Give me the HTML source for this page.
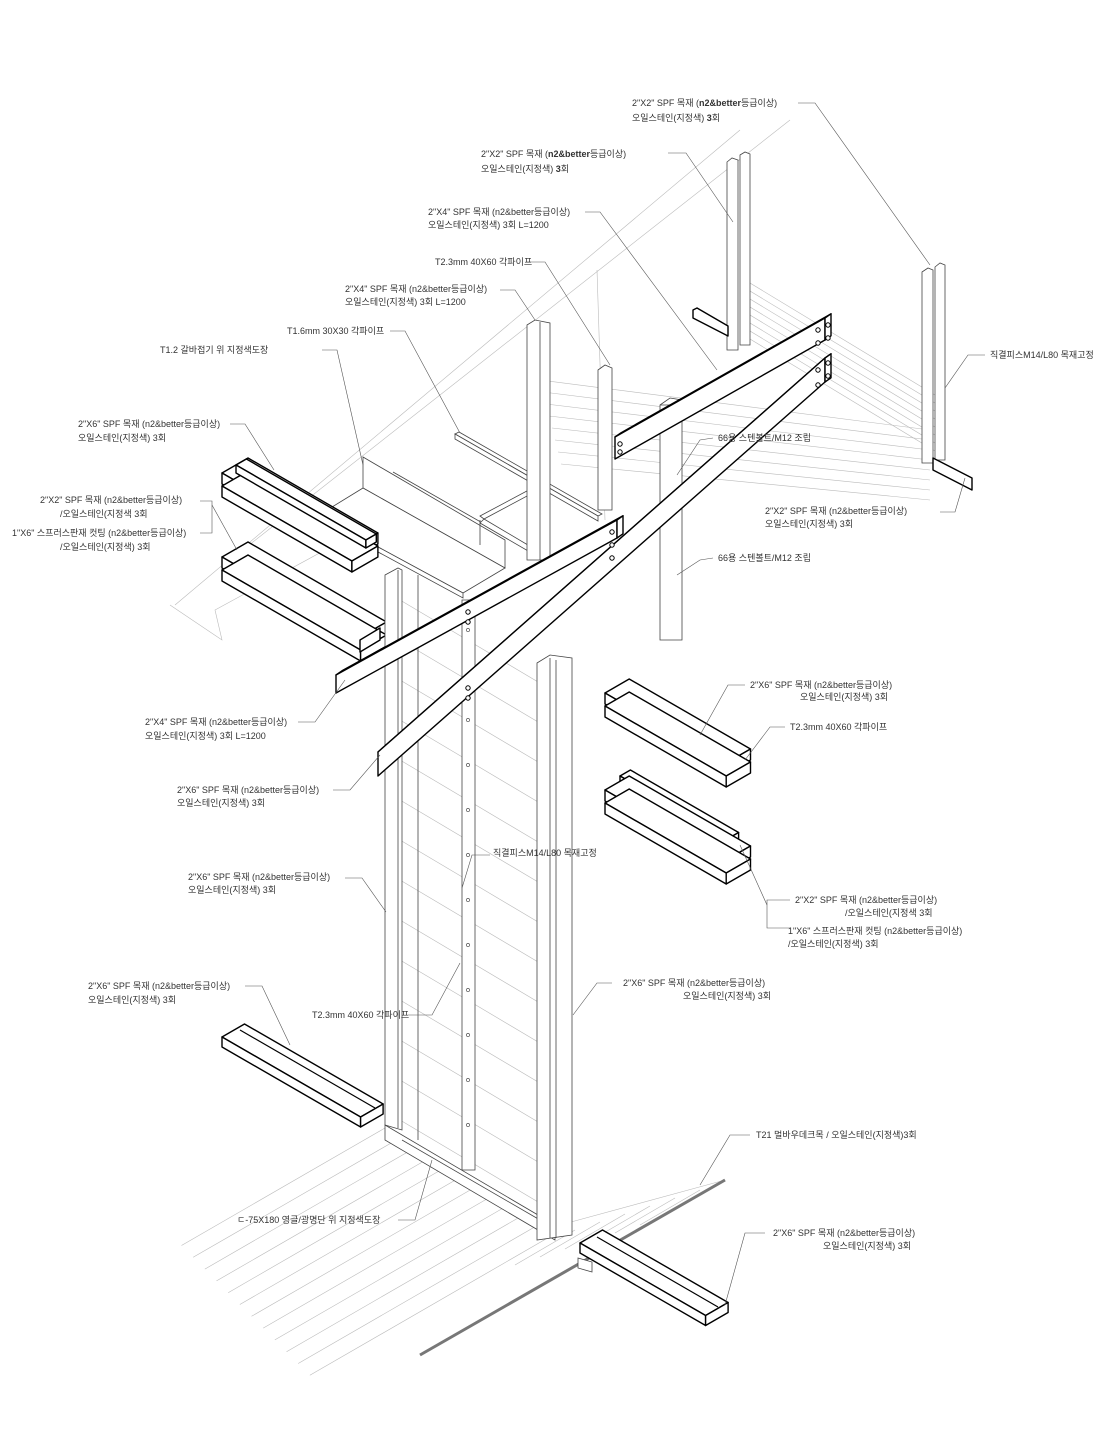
<!DOCTYPE html>
<html><head><meta charset="utf-8">
<style>
html,body{margin:0;padding:0;background:#fff;}
svg{display:block;}
text{font-family:"Liberation Sans","Noto Sans CJK KR",sans-serif;font-size:9px;fill:#333;}
.l{stroke:#555;stroke-width:0.6;fill:none;}
.g{stroke:#bbb;stroke-width:0.6;fill:none;}
.k{stroke:#000;stroke-width:1.4;fill:#fff;stroke-linejoin:round;}
.t{stroke:#444;stroke-width:0.8;fill:#fff;}
</style></head><body>
<svg id="s" width="1100" height="1450" viewBox="0 0 1100 1450" xmlns="http://www.w3.org/2000/svg">
<g id="bg"></g>
<line class="g" x1="175" y1="605" x2="740" y2="130"/>
<line class="g" x1="230" y1="560" x2="790" y2="120"/>
<polyline class="g" points="170,605 222,640 215,610 380,520"/>
<line class="g" x1="597" y1="270" x2="605" y2="520"/>
<g id="deck"></g>
<line x1="420" y1="1355" x2="725" y2="1180" stroke="#777" stroke-width="3"/>
<g id="main"></g>
<g id="labels">
<polyline class="l" points="798,103 815,103 930,265"/>
<text x="632" y="106">2"X2" SPF 목재 (<tspan font-weight="bold">n2&amp;better</tspan>등급이상)</text>
<text x="632" y="121">오일스테인(지정색) <tspan font-weight="bold">3</tspan>회</text>
<polyline class="l" points="668,153 686,153 733,222"/>
<text x="481" y="157">2"X2" SPF 목재 (<tspan font-weight="bold">n2&amp;better</tspan>등급이상)</text>
<text x="481" y="172">오일스테인(지정색) <tspan font-weight="bold">3</tspan>회</text>
<polyline class="l" points="585,212 600,212 717,370"/>
<text x="428" y="215">2"X4" SPF 목재 (n2&amp;better등급이상)</text>
<text x="428" y="228">오일스테인(지정색) 3회 L=1200</text>
<polyline class="l" points="527,262 545,262 610,365"/>
<text x="435" y="265">T2.3mm 40X60 각파이프</text>
<polyline class="l" points="500,290 515,290 535,320"/>
<text x="345" y="292">2"X4" SPF 목재 (n2&amp;better등급이상)</text>
<text x="345" y="305">오일스테인(지정색) 3회 L=1200</text>
<polyline class="l" points="390,331 405,331 460,433"/>
<text x="287" y="334">T1.6mm 30X30 각파이프</text>
<polyline class="l" points="322,350 337,350 363,465"/>
<text x="160" y="353">T1.2 갈바접기 위 지정색도장</text>
<polyline class="l" points="230,424 245,424 274,470"/>
<text x="78" y="427">2"X6" SPF 목재 (n2&amp;better등급이상)</text>
<text x="78" y="441">오일스테인(지정색) 3회</text>
<polyline class="l" points="200,501 212,501 212,533 200,533"/>
<line class="l" x1="212" y1="505" x2="237" y2="550"/>
<text x="40" y="503">2"X2" SPF 목재 (n2&amp;better등급이상)</text>
<text x="60" y="517">/오일스테인(지정색    3회</text>
<text x="12" y="536">1"X6" 스프러스판재 컷팅 (n2&amp;better등급이상)</text>
<text x="60" y="550">/오일스테인(지정색) 3회</text>
<polyline class="l" points="298,722 315,722 345,680"/>
<text x="145" y="725">2"X4" SPF 목재 (n2&amp;better등급이상)</text>
<text x="145" y="739">오일스테인(지정색) 3회 L=1200</text>
<polyline class="l" points="333,790 350,790 380,755"/>
<text x="177" y="793">2"X6" SPF 목재 (n2&amp;better등급이상)</text>
<text x="177" y="806">오일스테인(지정색) 3회</text>
<polyline class="l" points="345,878 362,878 386,912"/>
<text x="188" y="880">2"X6" SPF 목재 (n2&amp;better등급이상)</text>
<text x="188" y="893">오일스테인(지정색) 3회</text>
<polyline class="l" points="490,855 472,855 462,888"/>
<text x="493" y="856">직결피스M14/L80 목재고정</text>
<polyline class="l" points="745,685 728,685 700,735"/>
<text x="750" y="688">2"X6" SPF 목재 (n2&amp;better등급이상)</text>
<text x="800" y="700">오일스테인(지정색) 3회</text>
<polyline class="l" points="785,727 770,727 745,760"/>
<text x="790" y="730">T2.3mm 40X60 각파이프</text>
<polyline class="l" points="790,900 767,900 767,928 790,928"/>
<line class="l" x1="767" y1="905" x2="740" y2="845"/>
<text x="795" y="903">2"X2" SPF 목재 (n2&amp;better등급이상)</text>
<text x="845" y="916">/오일스테인(지정색     3회</text>
<text x="788" y="934">1"X6" 스프러스판재 컷팅 (n2&amp;better등급이상)</text>
<text x="788" y="947">/오일스테인(지정색) 3회</text>
<polyline class="l" points="612,983 597,983 573,1015"/>
<text x="623" y="986">2"X6" SPF 목재 (n2&amp;better등급이상)</text>
<text x="683" y="999">오일스테인(지정색) 3회</text>
<polyline class="l" points="408,1015 432,1015 460,963"/>
<text x="312" y="1018">T2.3mm 40X60 각파이프</text>
<polyline class="l" points="245,986 262,986 290,1045"/>
<text x="88" y="989">2"X6" SPF 목재 (n2&amp;better등급이상)</text>
<text x="88" y="1003">오일스테인(지정색) 3회</text>
<polyline class="l" points="750,1135 730,1135 700,1185"/>
<text x="756" y="1138">T21 멀바우데크목 / 오일스테인(지정색)3회</text>
<polyline class="l" points="765,1233 745,1233 725,1305"/>
<text x="773" y="1236">2"X6" SPF 목재 (n2&amp;better등급이상)</text>
<text x="823" y="1249">오일스테인(지정색) 3회</text>
<polyline class="l" points="398,1220 415,1220 432,1160"/>
<text x="237" y="1223">ㄷ-75X180 영글/광명단 위 지정색도장</text>
<polyline class="l" points="985,355 968,355 945,388"/>
<text x="990" y="358">직결피스M14/L80 목재고정</text>
<polyline class="l" points="713,438 700,440 677,475"/>
<text x="718" y="441">66용 스텐볼트/M12 조립</text>
<polyline class="l" points="713,558 700,560 677,575"/>
<text x="718" y="561">66용 스텐볼트/M12 조립</text>
<polyline class="l" points="940,512 955,512 965,478"/>
<text x="765" y="514">2"X2" SPF 목재 (n2&amp;better등급이상)</text>
<text x="765" y="527">오일스테인(지정색) 3회</text>
</g>
</svg>
<script>
(function(){
var NS="http://www.w3.org/2000/svg";
function el(p,tag,a){var e=document.createElementNS(NS,tag);for(var k in a)e.setAttribute(k,a[k]);p.appendChild(e);return e;}
var bg=document.getElementById('bg'),deck=document.getElementById('deck'),m=document.getElementById('main');
function pts(a){return a.map(function(p){return p[0].toFixed(1)+','+p[1].toFixed(1)}).join(' ');}
function poly(p,a,cls){el(p,'polygon',{points:pts(a),'class':cls||'k'});}
var ux=0.866,uy=0.5;
function box(p,x,y,L,w,h,cls){
 var O=[x,y],A=[x+ux*L,y+uy*L],V=[ux*w,-uy*w];
 var B=[A[0]+V[0],A[1]+V[1]],C=[x+V[0],y+V[1]];
 poly(p,[O,A,B,C],cls);
 poly(p,[O,A,[A[0],A[1]+h],[x,y+h]],cls);
 poly(p,[A,B,[B[0],B[1]+h],[A[0],A[1]+h]],cls);
}
// deck hatch: start along rail, run down-left
for(var i=0;i<12;i++){
 var x0=385+i*16, y0=1128+i*9.3;
 var len=235+i*5;
 el(deck,'line',{x1:x0,y1:y0,x2:x0-len*0.866,y2:y0+len*0.5,'class':'g'});
}
for(var i=0;i<6;i++){
 var x0=575+i*25, y0=1230-i*8;
 el(deck,'line',{x1:x0,y1:y0,x2:x0-60,y2:y0+35,'class':'g'});
}
el(deck,'line',{x1:560,y1:1225,x2:725,y2:1180,'class':'g'});
// gray lines behind panel
for(var i=0;i<14;i++){
 var y=600+i*40;
 el(bg,'line',{x1:400,y1:y,x2:560,y2:y+95,'class':'g'});
}
for(var i=0;i<8;i++){
 el(bg,'line',{x1:540+i*3,y1:380+i*12,x2:930,y2:430+i*10,'class':'g'});
 el(bg,'line',{x1:745,y1:280+i*8,x2:935,y2:395+i*8,'class':'g'});
}
// galva shelf: flat plate + back upstand
poly(m,[[363,457],[505,540],[505,568],[363,488]],'t');
el(m,'line',{x1:393,y1:472,x2:500,y2:533,'class':'t'});
poly(m,[[319,515],[363,488],[505,568],[463,593]],'t');
poly(m,[[319,515],[463,593],[463,598],[319,520]],'t');
// 30x30 pipe frame
poly(m,[[455,434],[459,432],[602,514],[598,516]],'t');
poly(m,[[455,434],[598,516],[598,521],[455,439]],'t');
poly(m,[[480,516],[540,484],[544,487],[484,519]],'t');
poly(m,[[484,519],[538,551],[535,555],[480,523]],'t');
el(m,'line',{x1:480,y1:520,x2:480,y2:545,'class':'t'});
// rear posts 2x4
poly(m,[[527,325],[535,320],[550,323],[550,560],[527,560]],'t');
el(m,'line',{x1:540,y1:322,x2:540,y2:560,'class':'t'});
poly(m,[[598,370],[605,365],[612,368],[612,510],[598,510]],'t');
// far right 2x2 posts
poly(m,[[727,162],[732,158],[738,160],[738,350],[727,350]],'t');
poly(m,[[740,155],[745,152],[750,154],[750,345],[740,345]],'t');
poly(m,[[693,310],[697,308],[728,326],[728,336],[693,318]],'k');
poly(m,[[922,272],[928,268],[933,270],[933,463],[922,463]],'t');
poly(m,[[935,267],[940,263],[945,265],[945,460],[935,460]],'t');
poly(m,[[933,458],[972,478],[972,490],[933,470]],'k');
// left boards
box(m,222,473,150,30,11);box(m,222,486,150,30,11);
box(m,236,465,150,12,8);
box(m,222,557,160,30,11);box(m,222,570,160,30,11);
poly(m,[[360,640],[380,628],[380,640],[360,652]],'k');
// right boards
box(m,605,693,140,28,11);box(m,605,706,140,28,11);
box(m,620,776,125,12,8);box(m,605,790,140,28,11);box(m,605,803,140,28,11);
// bottom boards
box(m,222,1037,160,26,10);el(m,'line',{x1:240,y1:1030,x2:375,y2:1108,stroke:'#000','stroke-width':1.2});
box(m,580,1243,145,26,10);el(m,'line',{x1:597,y1:1237,x2:718,y2:1307,stroke:'#000','stroke-width':1.2});
// main left post
poly(m,[[385,575],[398,568],[402,570],[402,1130],[385,1125]],'t');
el(m,'line',{x1:398,y1:570,x2:398,y2:1128,'class':'t'});
el(m,'line',{x1:418,y1:575,x2:418,y2:1140,'class':'t'});
// bottom channel
poly(m,[[385,1125],[555,1225],[555,1240],[385,1140]],'t');
el(m,'line',{x1:402,y1:1140,x2:540,y2:1220,'class':'t'});
poly(m,[[578,1258],[592,1262],[592,1272],[578,1268]],'t');
// middle pipe
poly(m,[[462,600],[475,600],[475,1170],[462,1170]],'t');
for(var y=630;y<1160;y+=45){el(m,'circle',{cx:468,cy:y,r:1.6,fill:'#fff',stroke:'#333','stroke-width':0.6});}
// right post
poly(m,[[537,663],[550,655],[572,658],[572,1235],[537,1240]],'t');
el(m,'line',{x1:550,y1:658,x2:550,y2:1238,'class':'t'});
el(m,'line',{x1:556,y1:660,x2:556,y2:1238,'class':'t'});
// mid vertical post (upper right)
poly(m,[[660,405],[670,398],[682,400],[682,640],[660,640]],'t');
el(m,'line',{x1:660,y1:405,x2:682,y2:405,'class':'t'});
// beams
function beam(x1,y1,x2,y2,T,d){
 poly(m,[[x1,y1],[x2,y2],[x2+d,y2-d*0.7],[x1+d,y1-d*0.7]]);
 poly(m,[[x1,y1],[x2,y2],[x2,y2+T],[x1,y1+T]]);
 poly(m,[[x2,y2],[x2+d,y2-d*0.7],[x2+d,y2-d*0.7+T],[x2,y2+T]]);
}
beam(615,437,825,318,22,6);
beam(378,752,825,358,24,6);
beam(336,675,617,520,18,6);
[[818,330],[828,325],[828,338],[818,343],[620,444],[620,452],[818,370],[828,363],[828,376],[818,385],[612,532],[612,545],[612,558],[468,612],[468,622],[468,688],[468,698]].forEach(function(c){el(m,'circle',{cx:c[0],cy:c[1],r:2.2,fill:'#fff',stroke:'#000','stroke-width':1});});
})();
</script>
</body></html>
